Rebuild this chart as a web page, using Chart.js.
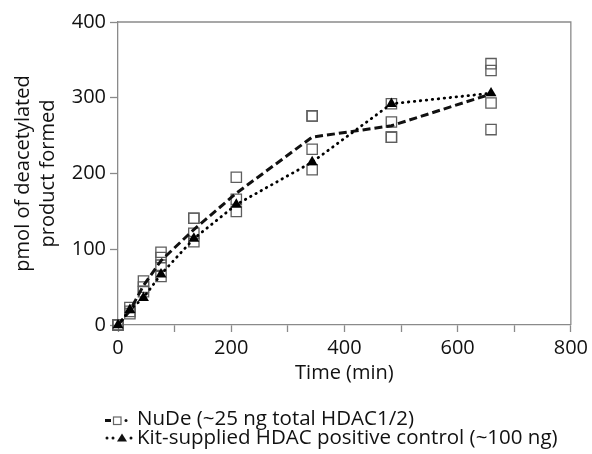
<!DOCTYPE html>
<html><head><meta charset="utf-8">
<script src="https://cdn.jsdelivr.net/npm/chart.js@4"></script>
<style>html,body{margin:0;padding:0;background:#fff;} #wrap{width:592px;height:454px;}</style>
</head><body><div id="wrap"><canvas id="c" width="592" height="454"></canvas></div>
<script>
// ---- data ----
const times    = [0, 21, 45, 76, 134, 209, 343, 483, 659];
const nudeMean = [0, 19, 52, 85, 126, 174, 248, 263, 305];
const kitMean  = [0, 20, 36, 67, 114, 159, 215, 292, 306];
const nudeRepA = [0, 23, 58, 96, 141, 195, 276, 292, 345];
const nudeRepB = [0, 18, 50, 89, 121, 166, 276, 268, 336];
const nudeRepC = [0, 15, 44, 79, 110, 150, 232, 248, 293];
const nudeRepD = [null, null, null, 64, 141, null, 205, 248, 258];
const xTicks = [0, 200, 400, 600, 800];
const yTicks = [0, 100, 200, 300, 400];
const legendLabels = ['NuDe (~25 ng total HDAC1/2)', 'Kit-supplied HDAC positive control (~100 ng)'];
const xTitle = 'Time (min)';
const yTitle = ['pmol of deacetylated', 'product formed'];

const FONT = "'Open Sans', sans-serif";
const AX = '#8a8a8a';
const TXT = '#111';

function pairs(ys){ return times.map((t,i)=>({x:t,y:ys[i]})); }
function reps(...arrs){ const p=[]; arrs.forEach(a=>a.forEach((v,i)=>{ if(v!==null) p.push({x:times[i],y:v}); })); return p; }

const boxPlugin = {
  id:'box',
  beforeDatasetsDraw(chart){
    const {ctx, chartArea:a} = chart;
    ctx.save();
    ctx.strokeStyle = AX; ctx.lineWidth = 1.3;
    ctx.beginPath();
    ctx.moveTo(a.left, a.top); ctx.lineTo(a.right, a.top); ctx.lineTo(a.right, a.bottom);
    ctx.stroke();
    ctx.restore();
  }
};

const legendPlugin = {
  id:'customLegend',
  afterDraw(chart){
    const ctx = chart.ctx;
    ctx.save();
    let y = 420.5;
    ctx.strokeStyle = '#111'; ctx.lineWidth = 3; ctx.lineCap = 'butt';
    ctx.beginPath(); ctx.moveTo(105, y); ctx.lineTo(111, y); ctx.stroke();
    ctx.strokeStyle = '#666'; ctx.lineWidth = 1.2;
    ctx.strokeRect(113.5, y-3.5, 7.5, 7.5);
    ctx.fillStyle = '#111';
    ctx.beginPath(); ctx.arc(126, y, 1.5, 0, Math.PI*2); ctx.fill();
    y = 438;
    [107, 113, 131].forEach(x=>{ ctx.beginPath(); ctx.arc(x, y, 1.5, 0, Math.PI*2); ctx.fill(); });
    ctx.beginPath(); ctx.moveTo(122, y-4.5); ctx.lineTo(127, y+3.5); ctx.lineTo(117, y+3.5); ctx.closePath(); ctx.fill();
    ctx.fillStyle = TXT;
    ctx.font = "20.5px " + FONT;
    ctx.textBaseline = 'alphabetic'; ctx.textAlign = 'left';
    ctx.fillText(legendLabels[0], 137, 425);
    ctx.fillText(legendLabels[1], 137, 444);
    ctx.restore();
  }
};

new Chart(document.getElementById('c'), {
  type: 'scatter',
  data: {
    datasets: [
      { label: legendLabels[1], data: pairs(kitMean), showLine: true, clip:false,
        borderColor:'#000', borderWidth:2.8, borderDash:[0.5,5.5], borderCapStyle:'round',
        pointStyle:'triangle', pointRadius:6.3, pointBackgroundColor:'#000', pointBorderColor:'#000', pointBorderWidth:0, tension:0 },
      { label: legendLabels[0], data: pairs(nudeMean), showLine: true, clip:false,
        borderColor:'#111', borderWidth:3, borderDash:[8,4], pointRadius:0, tension:0 },
      { label: legendLabels[0] + ' replicates', data: reps(nudeRepA, nudeRepB, nudeRepC, nudeRepD), showLine:false, clip:false,
        pointStyle:'rect', pointRadius:7.3, pointBackgroundColor:'rgba(0,0,0,0)', pointBorderColor:'#5e5e5e', pointBorderWidth:1.3 }
    ]
  },
  options: {
    responsive:false, animation:false, devicePixelRatio:1,
    layout:{ padding:{ left:0, top:22, right:19, bottom:69 } },
    plugins:{ legend:{display:false}, tooltip:{enabled:false} },
    scales:{
      x:{ type:'linear', min:0, max:800,
        afterBuildTicks(s){ s.ticks = [0,100,200,300,400,500,600,700,800].map(v=>({value:v})); },
        afterFit(s){ s.height = 60; },
        ticks:{ color:TXT, font:{family:FONT, size:20}, padding:4, maxRotation:0, autoSkip:false,
          callback:(v)=> xTicks.includes(v) ? String(v) : '' },
        grid:{ drawOnChartArea:false, drawTicks:true, tickLength:7, tickColor:AX, tickWidth:1.3 },
        border:{ color:AX, width:1.3 },
        title:{ display:true, text:xTitle, color:TXT, font:{family:FONT, size:20, lineHeight:1.2}, padding:{top:0,bottom:0} }
      },
      y:{ type:'linear', min:0, max:400,
        afterBuildTicks(s){ s.ticks = yTicks.map(v=>({value:v})); },
        afterFit(s){ s.width = 118; },
        ticks:{ color:TXT, font:{family:FONT, size:20}, padding:4 },
        grid:{ drawOnChartArea:false, drawTicks:true, tickLength:8, tickColor:AX, tickWidth:1.3 },
        border:{ color:AX, width:1.3 },
        title:{ display:true, text:yTitle, color:TXT, font:{family:FONT, size:20, lineHeight:1.25}, padding:{top:11,bottom:0} }
      }
    }
  },
  plugins:[boxPlugin, legendPlugin]
});
</script></body></html>
